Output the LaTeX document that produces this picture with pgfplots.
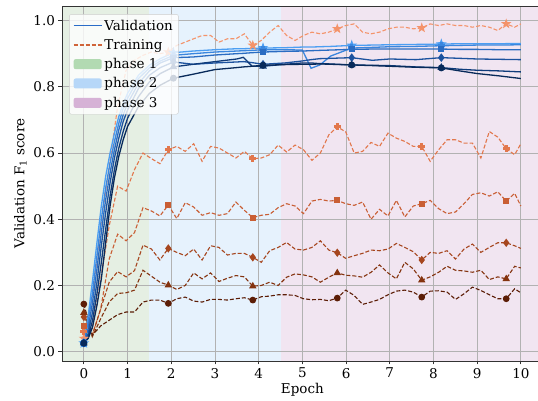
\documentclass[border=0pt]{standalone}
\usepackage{fontspec}
\setmainfont{DejaVu Serif}
\usepackage{pgfplots}
\pgfplotsset{compat=1.18}
\usepackage{pgfplotstable}

\definecolor{tA}{HTML}{F4936A}
\definecolor{tB}{HTML}{E2774C}
\definecolor{tC}{HTML}{C95E34}
\definecolor{tD}{HTML}{A6461F}
\definecolor{tE}{HTML}{84330F}
\definecolor{tF}{HTML}{5C1D06}
\definecolor{vA}{HTML}{4C9EF2}
\definecolor{vB}{HTML}{3A86DE}
\definecolor{vC}{HTML}{2A6CC2}
\definecolor{vD}{HTML}{1C529E}
\definecolor{vE}{HTML}{0F3B7A}
\definecolor{vF}{HTML}{082A5A}
\definecolor{pAbg}{HTML}{E5EFE3}
\definecolor{pBbg}{HTML}{E6F2FD}
\definecolor{pCbg}{HTML}{F1E5F1}
\definecolor{pAleg}{HTML}{B2DAB2}
\definecolor{pBleg}{HTML}{B6D7F8}
\definecolor{pCleg}{HTML}{D6B2D6}
\definecolor{legV}{HTML}{2A6CC8}
\definecolor{legT}{HTML}{D0643A}

\pgfdeclareplotmark{fstar}{%
 \pgfpathmoveto{\pgfpointpolar{90}{1.25\pgfplotmarksize}}%
 \pgfpathlineto{\pgfpointpolar{126}{0.5\pgfplotmarksize}}%
 \pgfpathlineto{\pgfpointpolar{162}{1.25\pgfplotmarksize}}%
 \pgfpathlineto{\pgfpointpolar{198}{0.5\pgfplotmarksize}}%
 \pgfpathlineto{\pgfpointpolar{234}{1.25\pgfplotmarksize}}%
 \pgfpathlineto{\pgfpointpolar{270}{0.5\pgfplotmarksize}}%
 \pgfpathlineto{\pgfpointpolar{306}{1.25\pgfplotmarksize}}%
 \pgfpathlineto{\pgfpointpolar{342}{0.5\pgfplotmarksize}}%
 \pgfpathlineto{\pgfpointpolar{18}{1.25\pgfplotmarksize}}%
 \pgfpathlineto{\pgfpointpolar{54}{0.5\pgfplotmarksize}}%
 \pgfpathclose\pgfusepathqfillstroke}
\pgfdeclareplotmark{fplus}{%
 \pgfpathmoveto{\pgfpoint{0.35\pgfplotmarksize}{\pgfplotmarksize}}%
 \pgfpathlineto{\pgfpoint{-0.35\pgfplotmarksize}{\pgfplotmarksize}}%
 \pgfpathlineto{\pgfpoint{-0.35\pgfplotmarksize}{0.35\pgfplotmarksize}}%
 \pgfpathlineto{\pgfpoint{-\pgfplotmarksize}{0.35\pgfplotmarksize}}%
 \pgfpathlineto{\pgfpoint{-\pgfplotmarksize}{-0.35\pgfplotmarksize}}%
 \pgfpathlineto{\pgfpoint{-0.35\pgfplotmarksize}{-0.35\pgfplotmarksize}}%
 \pgfpathlineto{\pgfpoint{-0.35\pgfplotmarksize}{-\pgfplotmarksize}}%
 \pgfpathlineto{\pgfpoint{0.35\pgfplotmarksize}{-\pgfplotmarksize}}%
 \pgfpathlineto{\pgfpoint{0.35\pgfplotmarksize}{-0.35\pgfplotmarksize}}%
 \pgfpathlineto{\pgfpoint{\pgfplotmarksize}{-0.35\pgfplotmarksize}}%
 \pgfpathlineto{\pgfpoint{\pgfplotmarksize}{0.35\pgfplotmarksize}}%
 \pgfpathlineto{\pgfpoint{0.35\pgfplotmarksize}{0.35\pgfplotmarksize}}%
 \pgfpathclose\pgfusepathqfillstroke}

\pgfplotstableread{
x t1 t2 t3 t4 t5 t6
0.000 0.040 0.060 0.078 0.105 0.118 0.144
0.193 0.160 0.070 0.050 0.050 0.045 0.050
0.387 0.380 0.220 0.130 0.130 0.100 0.078
0.580 0.560 0.380 0.280 0.210 0.150 0.095
0.773 0.740 0.500 0.355 0.242 0.176 0.112
0.967 0.850 0.485 0.335 0.226 0.178 0.120
1.160 0.880 0.550 0.360 0.245 0.186 0.120
1.353 0.895 0.600 0.435 0.322 0.246 0.150
1.547 0.905 0.583 0.425 0.310 0.228 0.156
1.740 0.900 0.568 0.410 0.277 0.210 0.156
1.933 0.905 0.610 0.443 0.312 0.201 0.146
2.126 0.925 0.620 0.402 0.300 0.188 0.160
2.320 0.935 0.605 0.450 0.290 0.200 0.165
2.513 0.945 0.628 0.437 0.310 0.238 0.153
2.706 0.955 0.575 0.412 0.277 0.220 0.150
2.900 0.955 0.620 0.420 0.320 0.238 0.158
3.093 0.935 0.615 0.412 0.315 0.212 0.158
3.286 0.945 0.600 0.417 0.292 0.222 0.156
3.480 0.945 0.585 0.452 0.297 0.230 0.160
3.673 0.960 0.605 0.427 0.297 0.226 0.163
3.866 0.925 0.583 0.405 0.285 0.198 0.156
4.060 0.940 0.585 0.412 0.270 0.200 0.166
4.253 0.965 0.595 0.415 0.305 0.210 0.168
4.446 0.985 0.624 0.435 0.315 0.200 0.172
4.640 0.955 0.603 0.447 0.330 0.225 0.172
4.833 0.940 0.624 0.440 0.310 0.235 0.170
5.026 0.955 0.610 0.417 0.307 0.232 0.160
5.219 0.965 0.578 0.455 0.315 0.226 0.157
5.412 0.960 0.600 0.460 0.335 0.210 0.158
5.606 0.965 0.655 0.455 0.307 0.225 0.154
5.799 0.975 0.679 0.457 0.299 0.238 0.162
5.992 0.985 0.664 0.447 0.282 0.231 0.186
6.186 0.990 0.600 0.442 0.290 0.229 0.170
6.379 0.965 0.605 0.452 0.297 0.225 0.143
6.572 0.960 0.632 0.400 0.307 0.240 0.150
6.766 0.965 0.620 0.430 0.305 0.262 0.158
6.959 0.975 0.660 0.410 0.310 0.238 0.172
7.152 0.980 0.645 0.457 0.327 0.220 0.183
7.345 0.980 0.635 0.407 0.315 0.270 0.186
7.539 0.975 0.620 0.440 0.302 0.250 0.180
7.732 0.978 0.620 0.447 0.277 0.216 0.165
7.925 0.990 0.575 0.457 0.300 0.226 0.183
8.119 0.985 0.610 0.432 0.297 0.240 0.184
8.312 0.990 0.640 0.417 0.305 0.258 0.180
8.505 0.985 0.640 0.422 0.280 0.246 0.158
8.699 0.985 0.630 0.447 0.310 0.244 0.175
8.892 0.980 0.630 0.475 0.325 0.240 0.195
9.085 0.985 0.585 0.480 0.300 0.246 0.185
9.278 0.980 0.665 0.470 0.315 0.218 0.172
9.472 0.970 0.648 0.483 0.329 0.226 0.160
9.665 0.990 0.613 0.455 0.329 0.220 0.160
9.858 0.980 0.595 0.478 0.320 0.258 0.190
10.00 0.990 0.628 0.440 0.312 0.253 0.178
}\train

\pgfplotstableread{
x v1 v2 v3 v4 v5 v6
0.00 0.026 0.026 0.026 0.026 0.026 0.026
0.10 0.110 0.090 0.070 0.055 0.045 0.040
0.20 0.216 0.180 0.150 0.120 0.095 0.075
0.30 0.330 0.290 0.250 0.210 0.175 0.140
0.40 0.440 0.400 0.360 0.320 0.270 0.220
0.50 0.530 0.495 0.460 0.420 0.370 0.330
0.60 0.600 0.570 0.540 0.510 0.470 0.440
0.70 0.660 0.635 0.610 0.585 0.550 0.525
0.80 0.710 0.690 0.670 0.645 0.615 0.590
0.90 0.750 0.735 0.715 0.695 0.665 0.640
1.00 0.780 0.765 0.750 0.730 0.705 0.680
1.25 0.835 0.825 0.810 0.795 0.770 0.740
1.50 0.865 0.857 0.848 0.835 0.815 0.780
1.75 0.885 0.878 0.872 0.858 0.840 0.805
2.05 0.903 0.895 0.888 0.875 0.860 0.826
2.50 0.908 0.900 0.890 0.868 0.868 0.838
3.00 0.912 0.905 0.896 0.872 0.876 0.852
3.50 0.915 0.908 0.900 0.875 0.884 0.858
3.65 0.915 0.909 0.901 0.876 0.889 0.860
3.85 0.916 0.910 0.903 0.873 0.862 0.862
4.10 0.917 0.912 0.905 0.868 0.862 0.865
4.60 0.918 0.912 0.907 0.872 0.868 0.867
5.00 0.920 0.911 0.908 0.878 0.872 0.868
5.20 0.920 0.856 0.909 0.882 0.872 0.868
5.40 0.921 0.866 0.910 0.885 0.870 0.869
5.65 0.922 0.893 0.911 0.886 0.869 0.868
6.13 0.925 0.917 0.913 0.888 0.866 0.866
6.60 0.926 0.919 0.914 0.880 0.865 0.864
7.00 0.927 0.921 0.914 0.884 0.864 0.862
7.60 0.928 0.922 0.914 0.882 0.860 0.859
8.18 0.929 0.924 0.914 0.888 0.858 0.857
8.60 0.930 0.925 0.913 0.886 0.853 0.848
9.00 0.930 0.926 0.913 0.884 0.850 0.840
9.50 0.930 0.926 0.912 0.883 0.848 0.833
10.0 0.931 0.927 0.912 0.882 0.845 0.825
}\valid

\begin{document}
\begin{tikzpicture}
\begin{axis}[
  set layers,
  width=480.7pt, height=355pt, scale only axis,
  xmin=-0.5, xmax=10.5, ymin=-0.028, ymax=1.044,
  xtick={0,1,2,3,4,5,6,7,8,9,10},
  ytick={0,0.2,0.4,0.6,0.8,1.0},
  yticklabel style={/pgf/number format/.cd, fixed, fixed zerofill, precision=1},
  /pgf/number format/assume math mode=true,
  tick align=outside, xtick pos=left, ytick pos=left,
  major tick length=3.5pt,
  grid=major, grid style={color=black!30, line width=0.8pt},
  axis line style={black!80, line width=0.8pt},
  tick style={black!80, line width=0.8pt},
  xlabel={Epoch}, ylabel={Validation F\textsubscript{1} score},
  xlabel style={yshift=2pt},
  label style={font=\fontsize{13.5}{16}\selectfont},
  tick label style={font=\fontsize{13.5}{16}\selectfont},
  legend cell align=left,
  legend style={at={(0.015,0.977)}, anchor=north west, fill=white, fill opacity=0.8,
    draw opacity=1, text opacity=1, draw=black!20, rounded corners=2pt,
    font=\fontsize{13.5}{16}\selectfont, row sep=3.6pt, inner sep=3.5pt,
    /tikz/every even column/.append style={column sep=5pt}},
]
\addlegendimage{legend image code/.code={\path[draw=legV, line width=1.5pt, draw opacity=1, solid] (0pt,0pt) -- (28pt,0pt);}}
\addlegendentry{Validation}
\addlegendimage{legend image code/.code={\path[draw=legT, line width=1.2pt, draw opacity=1, dash pattern=on 4pt off 2pt] (0pt,0pt) -- (28pt,0pt);}}
\addlegendentry{Training}
\addlegendimage{legend image code/.code={\path[fill=pAleg, draw=none, fill opacity=1] (0pt,-5pt) rectangle (28pt,5pt);}}
\addlegendentry{phase 1}
\addlegendimage{legend image code/.code={\path[fill=pBleg, draw=none, fill opacity=1] (0pt,-5pt) rectangle (28pt,5pt);}}
\addlegendentry{phase 2}
\addlegendimage{legend image code/.code={\path[fill=pCleg, draw=none, fill opacity=1] (0pt,-5pt) rectangle (28pt,5pt);}}
\addlegendentry{phase 3}

\addplot[fill=pAbg, draw=none, on layer=axis background, forget plot] coordinates {(-0.5,-0.028) (1.5,-0.028) (1.5,1.044) (-0.5,1.044)} --cycle;
\addplot[fill=pBbg, draw=none, on layer=axis background, forget plot] coordinates {(1.5,-0.028) (4.5,-0.028) (4.5,1.044) (1.5,1.044)} --cycle;
\addplot[fill=pCbg, draw=none, on layer=axis background, forget plot] coordinates {(4.5,-0.028) (10.5,-0.028) (10.5,1.044) (4.5,1.044)} --cycle;

\pgfplotsset{trn/.style={line width=1.1pt, dash pattern=on 4pt off 2pt, mark indices={1,11,21,31,41,51}, forget plot}}
\addplot[trn, tA, mark=fstar, mark size=3pt, mark options={solid, fill=tA}] table[x=x,y=t1]{\train};
\addplot[trn, tB, mark=fplus, mark size=3pt, mark options={solid, fill=tB}] table[x=x,y=t2]{\train};
\addplot[trn, tC, mark=square*, mark size=2.4pt, mark options={solid, fill=tC}] table[x=x,y=t3]{\train};
\addplot[trn, tD, mark=diamond*, mark size=3.3pt, mark options={solid, fill=tD}] table[x=x,y=t4]{\train};
\addplot[trn, tE, mark=triangle*, mark size=3.2pt, mark options={solid, fill=tE}] table[x=x,y=t5]{\train};
\addplot[trn, tF, mark=*, mark size=2.8pt, mark options={solid, fill=tF}] table[x=x,y=t6]{\train};

\pgfplotsset{vld/.style={line width=1.3pt, mark indices={1,15,21,27,31}, forget plot}}
\addplot[vld, vA, mark=fstar, mark size=3pt, mark options={fill=vA}] table[x=x,y=v1]{\valid};
\addplot[vld, vB, mark=fplus, mark size=3pt, mark options={fill=vB}] table[x=x,y=v2]{\valid};
\addplot[vld, vC, mark=square*, mark size=2.4pt, mark options={fill=vC}] table[x=x,y=v3]{\valid};
\addplot[vld, vD, mark=diamond*, mark size=3.3pt, mark options={fill=vD}] table[x=x,y=v4]{\valid};
\addplot[vld, vE, mark=triangle*, mark size=3.2pt, mark options={fill=vE}] table[x=x,y=v5]{\valid};
\addplot[vld, vF, mark=*, mark size=2.8pt, mark options={fill=vF}] table[x=x,y=v6]{\valid};
\end{axis}
\pgfresetboundingbox
\useasboundingbox ([xshift=-62pt,yshift=-40pt]current axis.south west) rectangle ([xshift=476pt,yshift=6pt]current axis.north west);
\end{tikzpicture}
\end{document}
